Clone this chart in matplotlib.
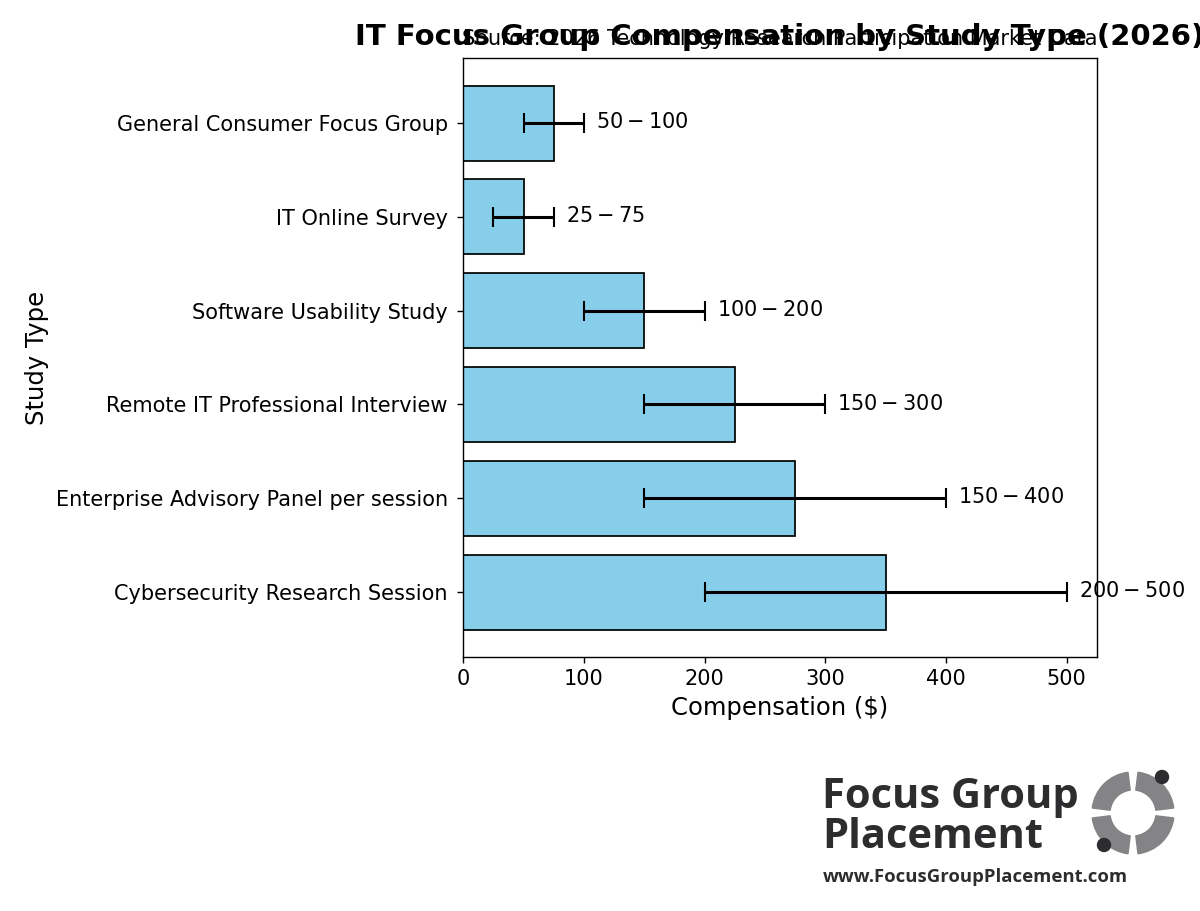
import numpy as np
import matplotlib
matplotlib.use('Agg')
import matplotlib.pyplot as plt
from matplotlib.patches import Wedge, Circle

plt.rcParams['font.family'] = ['DejaVu Sans']

# Datos (de abajo hacia arriba)
study_types = ['Cybersecurity Research Session',
               'Enterprise Advisory Panel per session',
               'Remote IT Professional Interview',
               'Software Usability Study',
               'IT Online Survey',
               'General Consumer Focus Group']
low = [200, 150, 150, 100, 25, 50]
high = [500, 400, 300, 200, 75, 100]

mid = [(lo + hi) / 2 for lo, hi in zip(low, high)]
err = np.array([[m - lo for m, lo in zip(mid, low)],
                [hi - m for m, hi in zip(mid, high)]])

fig = plt.figure(figsize=(12, 9.11), dpi=100)
ax = fig.add_axes([0.386, 0.279, 0.528, 0.657])

y = np.arange(len(study_types))
ax.barh(y, mid, color='skyblue', edgecolor='black', linewidth=1.25, height=0.8)
ax.errorbar(mid, y, xerr=err, fmt='none', ecolor='black', elinewidth=2.2, capsize=7, capthick=1.5)
for yi, lo, hi in zip(y, low, high):
    ax.text(hi + 10, yi + 0.01, f'${lo} - ${hi}', va='center', ha='left', fontsize=15)

ax.set_yticks(y)
ax.set_yticklabels(study_types, fontsize=15)
ax.tick_params(axis='x', labelsize=15)
ax.tick_params(length=4.5, width=1, pad=4.4)
ax.tick_params(axis='y', pad=6.5)
for s in ax.spines.values():
    s.set_linewidth(1)
ax.set_xlim(0, 525)
ax.set_xlabel('Compensation ($)', fontsize=17.5, labelpad=5)
ax.set_ylabel('Study Type', fontsize=17.5, labelpad=5)
ax.set_title('IT Focus Group Compensation by Study Type (2026)', fontsize=21, fontweight='bold', pad=9.4)
ax.text(0.5, 1.033, 'Source: 2026 Technology Research Participation Market Data',
        transform=ax.transAxes, ha='center', va='center', fontsize=15)

# Logo
lg = fig.add_axes([0, 0, 1, 1], zorder=-1)
lg.set_xlim(0, 1200)
lg.set_ylim(911, 0)
lg.axis('off')
dark = '#2d2d2f'
grey = '#848486'
lg.text(822, 798, 'Focus Group', fontsize=30, fontweight='bold', family='Open Sans',
        color=dark, va='center', ha='left')
lg.text(822, 838, 'Placement', fontsize=30, fontweight='bold', family='Open Sans',
        color=dark, va='center', ha='left')
lg.text(823, 877, 'www.FocusGroupPlacement.com', fontsize=13.3, fontweight='bold', family='Open Sans',
        color=dark, va='center', ha='left')
cx, cy = 1133, 813
for a in [0, 90, 180, 270]:
    lg.add_patch(Wedge((cx, cy), 41, a + 7, a + 83, width=18, color=grey))
lg.add_patch(Circle((1162, 777), 6.5, color=dark))
lg.add_patch(Circle((1104, 845), 6.5, color=dark))

fig.savefig('out.png', dpi=100)
